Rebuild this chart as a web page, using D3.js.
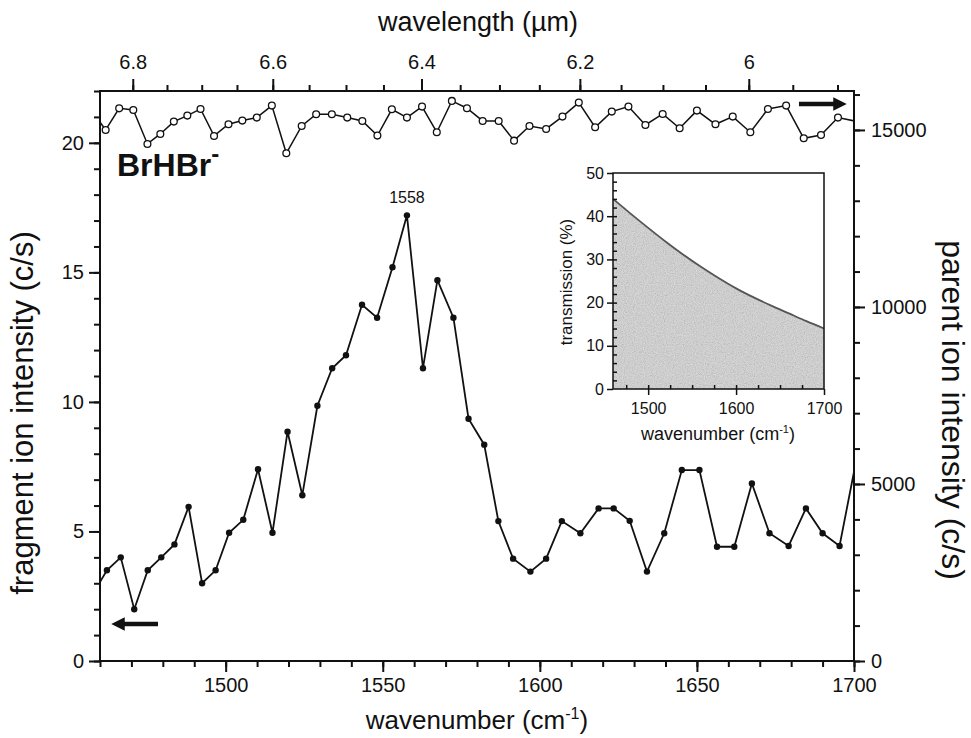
<!DOCTYPE html>
<html><head><meta charset="utf-8">
<script src="https://cdn.jsdelivr.net/npm/d3@7"></script>
<style>body{margin:0;background:#fff;} svg{display:block;} text{font-family:"Liberation Sans",Arial,Helvetica,sans-serif;fill:#111;}</style>
</head><body>
<script>
// ---- data ----
const fragWn = [1457.8,1462.2,1466.6,1470.9,1475.2,1479.5,1483.7,1488.2,1492.5,1496.8,1501.1,1505.6,1510.3,1514.9,1519.7,1524.4,1529.2,1533.9,1538.3,1543.4,1548.2,1553.1,1557.7,1562.8,1567.4,1572.5,1577.3,1582.3,1586.8,1591.5,1597.0,1602.0,1607.0,1612.9,1618.7,1623.5,1628.6,1634.1,1639.6,1645.2,1650.8,1656.4,1661.9,1667.5,1673.1,1679.2,1684.7,1690.0,1695.4,1700.8];
const fragVal = [2.6,3.5,4.0,2.0,3.5,4.0,4.5,5.95,3.0,3.5,4.95,5.45,7.4,4.95,8.85,6.4,9.85,11.3,11.8,13.75,13.25,15.2,17.2,11.3,14.7,13.25,9.35,8.35,5.4,3.95,3.45,3.95,5.4,4.93,5.89,5.89,5.41,3.45,4.93,7.37,7.37,4.41,4.41,6.85,4.93,4.44,5.89,4.93,4.44,7.8];
const parWn = [1457.4,1461.8,1466.1,1470.6,1475.1,1479.2,1483.5,1487.8,1492.0,1496.3,1500.9,1505.3,1509.9,1514.7,1519.3,1524.2,1528.8,1533.8,1538.7,1543.5,1548.3,1552.9,1557.7,1562.5,1567.2,1572.0,1576.8,1581.8,1586.9,1591.8,1596.7,1602.0,1607.2,1612.4,1617.6,1622.9,1628.2,1633.6,1639.1,1644.5,1650.0,1655.9,1661.4,1667.0,1672.6,1678.4,1684.0,1689.5,1694.9,1702.0];
const parVal = [15540,15000,15610,15565,14605,14887,15235,15405,15593,14831,15160,15264,15349,15688,14341,15113,15443,15443,15349,15254,14840,15584,15349,15659,14935,15820,15613,15254,15254,14698,15113,15028,15377,15772,15075,15518,15659,15141,15452,15047,15546,15160,15377,14935,15593,15688,14764,14859,15349,15220];
const transWn = [1460,1480,1500,1520,1540,1560,1580,1600,1620,1640,1660,1680,1700];
const transVal = [44,40.6,37.3,34.1,31.1,28.3,25.7,23.3,21.2,19.3,17.5,15.7,14.0];
const bottomTicks = [1500,1550,1600,1650,1700];
const leftTicks = [0,5,10,15,20];
const rightTicks = [0,5000,10000,15000];
const topTicks = [6.8,6.6,6.4,6.2,6.0];
const insetXTicks = [1500,1600,1700];
const insetYTicks = [0,10,20,30,40,50];
const peakLabel = "1558";
const peakWn = 1557.7;

const W = 971, H = 738;
const M = {left:100, right:854, top:91, bottom:661};
const svg = d3.select("body").append("svg").attr("width",W).attr("height",H);
const defs = svg.append("defs");

const x = d3.scaleLinear().domain([1460,1700]).range([M.left,M.right]);
const yL = d3.scaleLinear().domain([0,22]).range([M.bottom,M.top]);
const yR = d3.scaleLinear().domain([0,16100]).range([M.bottom,M.top]);

defs.append("clipPath").attr("id","plotclip")
  .append("rect").attr("x",M.left).attr("y",M.top).attr("width",M.right-M.left).attr("height",M.bottom-M.top);

function styleAxis(g, fs){
  g.select(".domain").remove();
  g.selectAll("line").attr("stroke","#111").attr("stroke-width",2);
  g.selectAll("text").attr("font-size",fs).attr("fill","#111")
   .attr("font-family",'"Liberation Sans",Arial,sans-serif');
}
// bottom axis
const gb = svg.append("g").attr("transform",`translate(0,${M.bottom})`)
  .call(d3.axisBottom(x).tickValues(d3.range(1460,1701,10)).tickSize(6).tickFormat(""));
const gb2 = svg.append("g").attr("transform",`translate(0,${M.bottom})`)
  .call(d3.axisBottom(x).tickValues(bottomTicks).tickSize(11).tickPadding(6).tickFormat(d3.format("d")));
styleAxis(gb,20); styleAxis(gb2,20);

// left axis
const gl = svg.append("g").attr("transform",`translate(${M.left},0)`)
  .call(d3.axisLeft(yL).tickValues(d3.range(0,23,1)).tickSize(6).tickFormat(""));
const gl2 = svg.append("g").attr("transform",`translate(${M.left},0)`)
  .call(d3.axisLeft(yL).tickValues(leftTicks).tickSize(11).tickPadding(5).tickFormat(d3.format("d")));
styleAxis(gl,20); styleAxis(gl2,20);

// right axis
const gr = svg.append("g").attr("transform",`translate(${M.right},0)`)
  .call(d3.axisRight(yR).tickValues(d3.range(0,16001,1000)).tickSize(6).tickFormat(""));
const gr2 = svg.append("g").attr("transform",`translate(${M.right},0)`)
  .call(d3.axisRight(yR).tickValues(rightTicks).tickSize(11).tickPadding(6).tickFormat(d3.format("d")));
styleAxis(gr,20); styleAxis(gr2,20);

// top axis (wavelength in µm = 1e4 / wavenumber)
const xw = v => x(10000/v);
const minorW = d3.range(5.85,6.86,0.05).map(v=>+v.toFixed(2)).filter(v=>10000/v>=1460 && 10000/v<=1700);
const gt = svg.append("g");
gt.selectAll("line.mn").data(minorW).join("line").attr("class","mn")
  .attr("x1",d=>xw(d)).attr("x2",d=>xw(d)).attr("y1",M.top).attr("y2",M.top-6).attr("stroke","#111").attr("stroke-width",2);
gt.selectAll("line.mj").data(topTicks).join("line").attr("class","mj")
  .attr("x1",d=>xw(d)).attr("x2",d=>xw(d)).attr("y1",M.top).attr("y2",M.top-12).attr("stroke","#111").attr("stroke-width",2);
gt.selectAll("text").data(topTicks).join("text")
  .attr("x",d=>xw(d)).attr("y",M.top-22).attr("text-anchor","middle").attr("font-size",20)
  .text(d=>d===6?"6":d.toFixed(1));

// frame
svg.append("rect").attr("x",M.left).attr("y",M.top).attr("width",M.right-M.left).attr("height",M.bottom-M.top)
  .attr("fill","none").attr("stroke","#111").attr("stroke-width",2);

// titles
svg.append("text").attr("x",477).attr("y",729).attr("text-anchor","middle").attr("font-size",26)
  .html('wavenumber (cm<tspan dy="-10" font-size="16">-1</tspan><tspan dy="10">)</tspan>');
svg.append("text").attr("x",478).attr("y",31).attr("text-anchor","middle").attr("font-size",27)
  .text("wavelength (\u00b5m)");
svg.append("text").attr("transform","translate(33,413) rotate(-90)").attr("text-anchor","middle").attr("font-size",31)
  .text("fragment ion intensity (c/s)");
svg.append("text").attr("transform","translate(942,410) rotate(90)").attr("text-anchor","middle").attr("font-size",32)
  .text("parent ion intensity (c/s)");

// inset
const I = {left:613, right:824, top:173, bottom:389};
const xi = d3.scaleLinear().domain([1460,1700]).range([I.left,I.right]);
const yi = d3.scaleLinear().domain([0,50]).range([I.bottom,I.top]);
const ig = svg.append("g");
const tdata = transWn.map((d,i)=>({x:d,y:transVal[i]}));
const areaGen = d3.area().x(d=>xi(d.x)).y0(yi(0)).y1(d=>yi(d.y)).curve(d3.curveMonotoneX);
defs.append("clipPath").attr("id","areaclip").append("path").datum(tdata).attr("d",areaGen);
const f = defs.append("filter").attr("id","grain").attr("x",0).attr("y",0).attr("width","100%").attr("height","100%");
f.append("feTurbulence").attr("type","fractalNoise").attr("baseFrequency","0.9").attr("numOctaves",2).attr("seed",4).attr("result","n");
f.append("feColorMatrix").attr("in","n").attr("type","matrix")
  .attr("values","1 0 0 0 0  1 0 0 0 0  1 0 0 0 0  0 0 0 0 0.28");
ig.append("path").datum(tdata).attr("d",areaGen).attr("fill","#d4d4d4");
ig.append("rect").attr("clip-path","url(#areaclip)").attr("x",I.left).attr("y",I.top)
  .attr("width",I.right-I.left).attr("height",I.bottom-I.top).attr("filter","url(#grain)");
ig.append("path").datum(tdata)
  .attr("d",d3.line().x(d=>xi(d.x)).y(d=>yi(d.y)).curve(d3.curveMonotoneX))
  .attr("fill","none").attr("stroke","#555").attr("stroke-width",1.8);
// inset axes
const ib1 = ig.append("g").attr("transform",`translate(0,${I.bottom})`)
  .call(d3.axisBottom(xi).tickValues(d3.range(1475,1700,25)).tickSize(-4).tickFormat(""));
const ib2 = ig.append("g").attr("transform",`translate(0,${I.bottom})`)
  .call(d3.axisBottom(xi).tickValues(insetXTicks).tickSize(6).tickPadding(8).tickFormat(d3.format("d")));
const il1 = ig.append("g").attr("transform",`translate(${I.left},0)`)
  .call(d3.axisLeft(yi).tickValues(d3.range(2,50,2)).tickSize(-4).tickFormat(""));
const il2 = ig.append("g").attr("transform",`translate(${I.left},0)`)
  .call(d3.axisLeft(yi).tickValues(insetYTicks).tickSize(6).tickPadding(3).tickFormat(d3.format("d")));
[ib1,ib2,il1,il2].forEach(g=>{styleAxis(g,16); g.selectAll("line").attr("stroke-width",1.5);});
ig.append("rect").attr("x",I.left).attr("y",I.top).attr("width",I.right-I.left).attr("height",I.bottom-I.top)
  .attr("fill","none").attr("stroke","#111").attr("stroke-width",1.5);
ig.append("text").attr("x",718).attr("y",440).attr("text-anchor","middle").attr("font-size",18)
  .html('wavenumber (cm<tspan dy="-7" font-size="11">-1</tspan><tspan dy="7">)</tspan>');
ig.append("text").attr("transform","translate(572,282) rotate(-90)").attr("text-anchor","middle").attr("font-size",17)
  .text("transmission (%)");

// data
const plot = svg.append("g").attr("clip-path","url(#plotclip)");
const fdata = fragWn.map((d,i)=>({x:d,y:fragVal[i]}));
const pdata = parWn.map((d,i)=>({x:d,y:parVal[i]}));
plot.append("path").datum(fdata).attr("d",d3.line().x(d=>x(d.x)).y(d=>yL(d.y)))
  .attr("fill","none").attr("stroke","#111").attr("stroke-width",1.8);
plot.selectAll("circle.f").data(fdata).join("circle").attr("class","f")
  .attr("cx",d=>x(d.x)).attr("cy",d=>yL(d.y)).attr("r",3.2).attr("fill","#111");
plot.append("path").datum(pdata).attr("d",d3.line().x(d=>x(d.x)).y(d=>yR(d.y)))
  .attr("fill","none").attr("stroke","#111").attr("stroke-width",1.5);
plot.selectAll("circle.p").data(pdata).join("circle").attr("class","p")
  .attr("cx",d=>x(d.x)).attr("cy",d=>yR(d.y)).attr("r",3.4).attr("fill","#fff").attr("stroke","#111").attr("stroke-width",1.3);

// peak label
const pk = fdata.find(d=>d.x===peakWn);
svg.append("text").attr("x",x(pk.x)).attr("y",yL(pk.y)-12).attr("text-anchor","middle").attr("font-size",16).text(peakLabel);

// species label
svg.append("text").attr("x",117).attr("y",176).attr("font-size",32).attr("font-weight","bold")
  .html('BrHBr<tspan dy="-14" font-size="24">-</tspan>');

// arrows
defs.append("marker").attr("id","ah").attr("viewBox","0 0 10 10").attr("refX",5).attr("refY",5)
  .attr("markerWidth",3).attr("markerHeight",3).attr("orient","auto")
  .append("path").attr("d","M0,0 L10,5 L0,10 z").attr("fill","#111");
svg.append("line").attr("x1",158).attr("x2",118).attr("y1",624).attr("y2",624).attr("stroke","#111").attr("stroke-width",4.5).attr("marker-end","url(#ah)");
svg.append("line").attr("x1",799).attr("x2",840).attr("y1",104).attr("y2",104).attr("stroke","#111").attr("stroke-width",4.5).attr("marker-end","url(#ah)");
</script>
</body></html>
